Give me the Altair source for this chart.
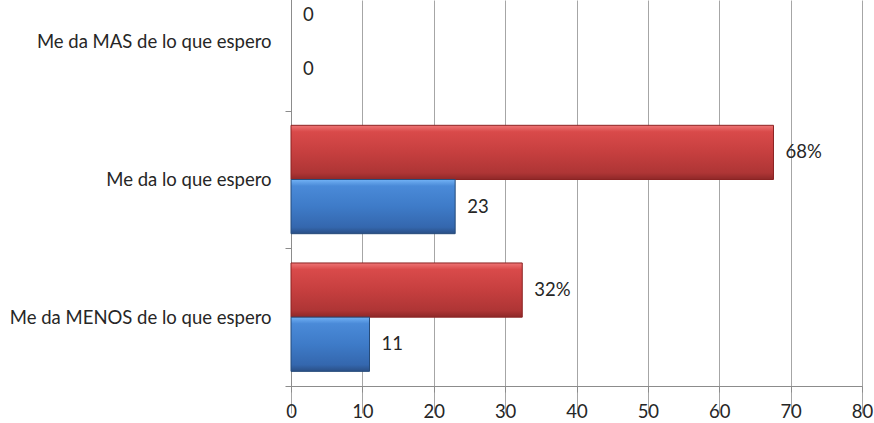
import altair as alt
import pandas as pd

categories = ["Me da MAS de lo que espero", "Me da lo que espero", "Me da MENOS de lo que espero"]
series = ["pct", "count"]
pct_values = [0, 67.6, 32.4]
pct_labels = ["0", "68%", "32%"]
count_values = [0, 23, 11]
count_labels = ["0", "23", "11"]
x_ticks = [0, 10, 20, 30, 40, 50, 60, 70, 80]

rows = []
for c, v, l in zip(categories, pct_values, pct_labels):
    rows.append({"cat": c, "series": "pct", "value": v, "label": l})
for c, v, l in zip(categories, count_values, count_labels):
    rows.append({"cat": c, "series": "count", "value": v, "label": l})
df = pd.DataFrame(rows)

FONT = "Lato"
TXT = "#262626"
FS = 18.5

y_enc = alt.Y(
    "cat:N", sort=categories,
    scale=alt.Scale(range=[-27, 386], paddingInner=0, paddingOuter=0),
    axis=alt.Axis(title=None, labelFont=FONT, labelFontSize=FS, labelColor=TXT,
                  labelPadding=14, labelLimit=400, tickBand="extent", tickSize=6,
                  tickColor="#8C8C8C", domainColor="#8C8C8C", grid=False),
)
yoff_enc = alt.YOffset("series:N", sort=series,
                       scale=alt.Scale(domain=series, paddingOuter=0.27, paddingInner=0))
x_enc = alt.X(
    "value:Q", scale=alt.Scale(domain=[0, 80], nice=False),
    axis=alt.Axis(title=None, values=x_ticks, grid=True, gridColor="#A6A6A6",
                  domainColor="#8C8C8C", tickColor="#8C8C8C", tickSize=6,
                  labelFont=FONT, labelFontSize=FS, labelColor=TXT, labelPadding=10,
                  labelFlush=False),
)

base = alt.Chart(df).encode(y=y_enc, yOffset=yoff_enc, x=x_enc)

red_grad = alt.Gradient(
    gradient="linear", x1=0, x2=0, y1=0, y2=1,
    stops=[alt.GradientStop(color="#EE7575", offset=0),
           alt.GradientStop(color="#D94A4A", offset=0.12),
           alt.GradientStop(color="#C63F3F", offset=0.5),
           alt.GradientStop(color="#AE3535", offset=0.88),
           alt.GradientStop(color="#8E2828", offset=1)])
blue_grad = alt.Gradient(
    gradient="linear", x1=0, x2=0, y1=0, y2=1,
    stops=[alt.GradientStop(color="#72B2F5", offset=0),
           alt.GradientStop(color="#4A8AD8", offset=0.12),
           alt.GradientStop(color="#3E7BC8", offset=0.5),
           alt.GradientStop(color="#3467AE", offset=0.88),
           alt.GradientStop(color="#2A4F85", offset=1)])

red = base.transform_filter(
    (alt.datum.series == "pct") & (alt.datum.value > 0)).mark_bar(
    fill=red_grad, stroke="#8B2323", strokeWidth=1)
blue = base.transform_filter(
    (alt.datum.series == "count") & (alt.datum.value > 0)).mark_bar(
    fill=blue_grad, stroke="#254B7A", strokeWidth=1)
labels = base.mark_text(align="left", baseline="middle", dx=12, font=FONT,
                        fontSize=FS, color=TXT).encode(text="label:N")

chart = alt.layer(red, blue, labels).properties(
    width=571, height=386,
    autosize=alt.AutoSizeParams(type="none"),
    padding={"left": 291, "top": 0, "right": 12, "bottom": 37},
    background="white",
).configure_view(stroke=None)

chart.save("out.html", embed_options={"renderer": "svg", "actions": False})
